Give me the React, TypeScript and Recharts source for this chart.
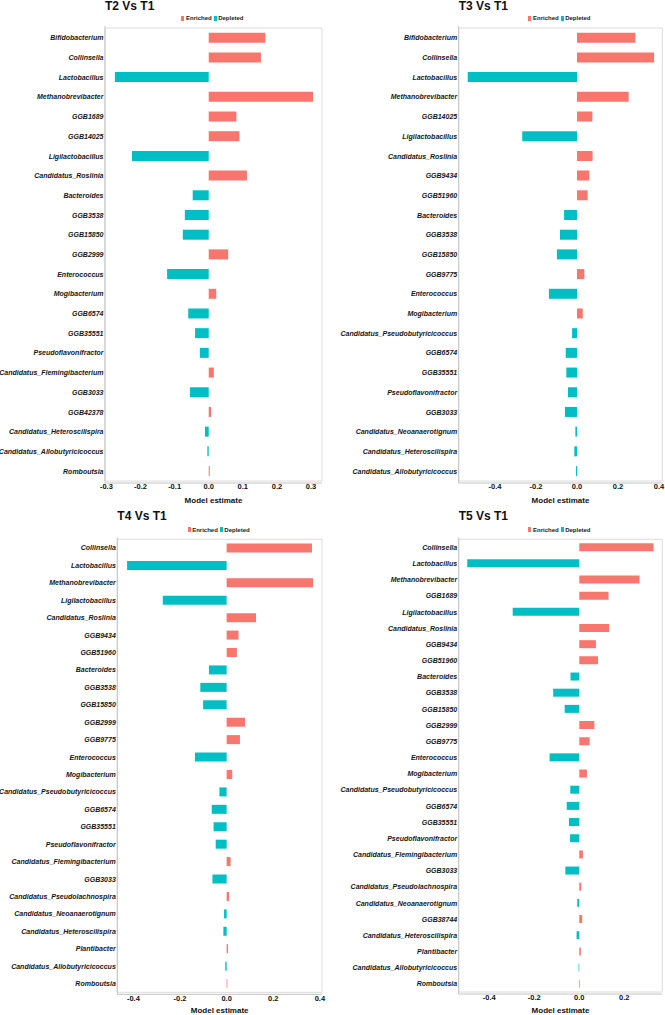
import React from "react";
import { BarChart, Bar, Cell, XAxis, YAxis, ReferenceArea, Label } from "recharts";

// ---- T2 vs T1 ----
const t2Taxa = [
  "Bifidobacterium", "Collinsella", "Lactobacillus", "Methanobrevibacter", "GGB1689",
  "GGB14025", "Ligilactobacillus", "Candidatus_Roslinia", "Bacteroides", "GGB3538",
  "GGB15850", "GGB2999", "Enterococcus", "Mogibacterium", "GGB6574", "GGB35551",
  "Pseudoflavonifractor", "Candidatus_Flemingibacterium", "GGB3033", "GGB42378",
  "Candidatus_Heteroscilispira", "Candidatus_Allobutyricicoccus", "Romboutsia",
];
const t2Estimate = [
  0.166, 0.153, -0.275, 0.306, 0.081, 0.09, -0.225, 0.112, -0.047, -0.07, -0.076, 0.057,
  -0.122, 0.022, -0.06, -0.04, -0.026, 0.015, -0.055, 0.007, -0.011, -0.004, 0.003,
];
const t2Ticks = [-0.3, -0.2, -0.1, 0, 0.1, 0.2, 0.3];

// ---- T3 vs T1 ----
const t3Taxa = [
  "Bifidobacterium", "Collinsella", "Lactobacillus", "Methanobrevibacter", "GGB14025",
  "Ligilactobacillus", "Candidatus_Roslinia", "GGB9434", "GGB51960", "Bacteroides",
  "GGB3538", "GGB15850", "GGB9775", "Enterococcus", "Mogibacterium",
  "Candidatus_Pseudobutyricicoccus", "GGB6574", "GGB35551", "Pseudoflavonifractor",
  "GGB3033", "Candidatus_Neoanaerotignum", "Candidatus_Heteroscilispira",
  "Candidatus_Allobutyricicoccus",
];
const t3Estimate = [
  0.285, 0.376, -0.533, 0.252, 0.075, -0.267, 0.076, 0.06, 0.052, -0.063, -0.083, -0.098,
  0.036, -0.137, 0.028, -0.024, -0.055, -0.052, -0.044, -0.059, -0.008, -0.013, -0.005,
];
const t3Ticks = [-0.4, -0.2, 0, 0.2, 0.4];

// ---- T4 vs T1 ----
const t4Taxa = [
  "Collinsella", "Lactobacillus", "Methanobrevibacter", "Ligilactobacillus",
  "Candidatus_Roslinia", "GGB9434", "GGB51960", "Bacteroides", "GGB3538", "GGB15850",
  "GGB2999", "GGB9775", "Enterococcus", "Mogibacterium", "Candidatus_Pseudobutyricicoccus",
  "GGB6574", "GGB35551", "Pseudoflavonifractor", "Candidatus_Flemingibacterium", "GGB3033",
  "Candidatus_Pseudolachnospira", "Candidatus_Neoanaerotignum", "Candidatus_Heteroscilispira",
  "Plantibacter", "Candidatus_Allobutyricicoccus", "Romboutsia",
];
const t4Estimate = [
  0.366, -0.427, 0.371, -0.274, 0.126, 0.051, 0.044, -0.076, -0.113, -0.101, 0.079, 0.057,
  -0.136, 0.024, -0.031, -0.064, -0.056, -0.047, 0.017, -0.061, 0.01, -0.011, -0.014,
  0.006, -0.006, 0.003,
];
const t4Ticks = [-0.4, -0.2, 0, 0.2, 0.4];

// ---- T5 vs T1 ----
const t5Taxa = [
  "Collinsella", "Lactobacillus", "Methanobrevibacter", "GGB1689", "Ligilactobacillus",
  "Candidatus_Roslinia", "GGB9434", "GGB51960", "Bacteroides", "GGB3538", "GGB15850",
  "GGB2999", "GGB9775", "Enterococcus", "Mogibacterium", "Candidatus_Pseudobutyricicoccus",
  "GGB6574", "GGB35551", "Pseudoflavonifractor", "Candidatus_Flemingibacterium", "GGB3033",
  "Candidatus_Pseudolachnospira", "Candidatus_Neoanaerotignum", "GGB38744",
  "Candidatus_Heteroscilispira", "Plantibacter", "Candidatus_Allobutyricicoccus", "Romboutsia",
];
const t5Estimate = [
  0.33, -0.498, 0.268, 0.13, -0.296, 0.133, 0.074, 0.083, -0.039, -0.116, -0.065, 0.067,
  0.046, -0.132, 0.034, -0.04, -0.056, -0.046, -0.041, 0.016, -0.062, 0.009, -0.009, 0.013,
  -0.012, 0.007, -0.003, 0.003,
];
const t5Ticks = [-0.4, -0.2, 0, 0.2];

const ENRICHED = "#F8766D";
const DEPLETED = "#00BFC4";
const FONT = "'Liberation Sans', Arial, sans-serif";

type PanelProps = {
  title: string;
  taxa: string[];
  estimate: number[];
  ticks: number[];
  domain: [number, number];
  left: number;
  top: number;
  width: number;
  height: number;
  axisWidth: number;
  plotTop: number;
  plotBottom: number;
  plotRight: number;
};

const LegendKey = ({ color, text }: { color: string; text: string }) => (
  <span style={{ display: "inline-flex", alignItems: "center", marginRight: 2 }}>
    <span style={{ width: 3, height: 5, background: color, marginRight: 1.5 }} />
    <span>{text}</span>
  </span>
);

const Panel = (p: PanelProps) => {
  const data = p.taxa.map((name, i) => ({ name, value: p.estimate[i] }));
  const plotCenter = (p.axisWidth + p.plotRight) / 2;
  const shift = p.plotTop - 26;
  return (
    <div style={{ position: "absolute", left: p.left, top: p.top, width: p.width, height: p.height }}>
      <div
        style={{
          position: "absolute",
          left: p.axisWidth,
          top: Math.max(0, -1.2 + shift),
          fontSize: 12,
          lineHeight: "12px",
          fontWeight: "bold",
          color: "#111",
          whiteSpace: "nowrap",
        }}
      >
        {p.title}
      </div>
      <div
        style={{
          position: "absolute",
          left: plotCenter - 40,
          width: 80,
          top: 15.3 + shift,
          height: 6,
          display: "flex",
          justifyContent: "center",
          alignItems: "center",
          fontSize: 6,
          lineHeight: "6px",
          fontWeight: "bold",
          color: "#1a1a1a",
          whiteSpace: "nowrap",
        }}
      >
        <LegendKey color={ENRICHED} text="Enriched" />
        <LegendKey color={DEPLETED} text="Depleted" />
      </div>
      <BarChart
        width={p.width}
        height={p.height}
        layout="vertical"
        data={data}
        barCategoryGap="24%"
        margin={{ top: p.plotTop, right: p.width - p.plotRight, bottom: 0, left: 0 }}
      >
        <XAxis
          type="number"
          domain={p.domain}
          ticks={p.ticks}
          height={p.height - p.plotBottom}
          tickFormatter={(v: number) => v.toFixed(1)}
          tick={{ fontSize: 7.5, fontWeight: "bold", fill: "#111" }}
          tickLine={false}
          tickSize={0}
          tickMargin={1}
          axisLine={{ stroke: "#c4c4c4" }}
        >
          <Label
            value="Model estimate"
            position="insideBottom"
            offset={2}
            style={{ fontSize: 8, fontWeight: "bold", fill: "#111" }}
          />
        </XAxis>
        <YAxis
          type="category"
          dataKey="name"
          width={p.axisWidth}
          interval={0}
          padding={{ top: 2, bottom: 2 }}
          tick={{ fontSize: 7, fontWeight: "bold", fontStyle: "italic", fill: "#161616" }}
          tickLine={false}
          tickSize={0}
          tickMargin={1.5}
          axisLine={{ stroke: "#c4c4c4" }}
        />
        <Bar dataKey="value" isAnimationActive={false}>
          {data.map((d) => (
            <Cell key={d.name} fill={d.value >= 0 ? ENRICHED : DEPLETED} />
          ))}
        </Bar>
        <ReferenceArea
          x1={p.domain[0]}
          x2={p.domain[1]}
          fillOpacity={0}
          stroke="#dcdcdc"
          strokeWidth={1}
        />
      </BarChart>
    </div>
  );
};

export default function App() {
  return (
    <div
      style={{
        position: "absolute",
        left: 0,
        top: 0,
        width: 665,
        height: 1015,
        background: "#fff",
        fontFamily: FONT,
        overflow: "hidden",
      }}
    >
      <Panel
        title="T2 Vs T1"
        taxa={t2Taxa}
        estimate={t2Estimate}
        ticks={t2Ticks}
        domain={[-0.304, 0.332]}
        left={0}
        top={0}
        width={332}
        height={505}
        axisWidth={105}
        plotTop={26}
        plotBottom={483}
        plotRight={322}
      />
      <Panel
        title="T3 Vs T1"
        taxa={t3Taxa}
        estimate={t3Estimate}
        ticks={t3Ticks}
        domain={[-0.577, 0.416]}
        left={332}
        top={0}
        width={333}
        height={505}
        axisWidth={126.7}
        plotTop={26}
        plotBottom={483}
        plotRight={330.3}
      />
      <Panel
        title="T4 Vs T1"
        taxa={t4Taxa}
        estimate={t4Estimate}
        ticks={t4Ticks}
        domain={[-0.469, 0.409]}
        left={0}
        top={505}
        width={332}
        height={510}
        axisWidth={117.3}
        plotTop={32.3}
        plotBottom={489.3}
        plotRight={322}
      />
      <Panel
        title="T5 Vs T1"
        taxa={t5Taxa}
        estimate={t5Estimate}
        ticks={t5Ticks}
        domain={[-0.536, 0.369]}
        left={332}
        top={505}
        width={333}
        height={510}
        axisWidth={126.7}
        plotTop={32.3}
        plotBottom={489}
        plotRight={330.3}
      />
    </div>
  );
}
